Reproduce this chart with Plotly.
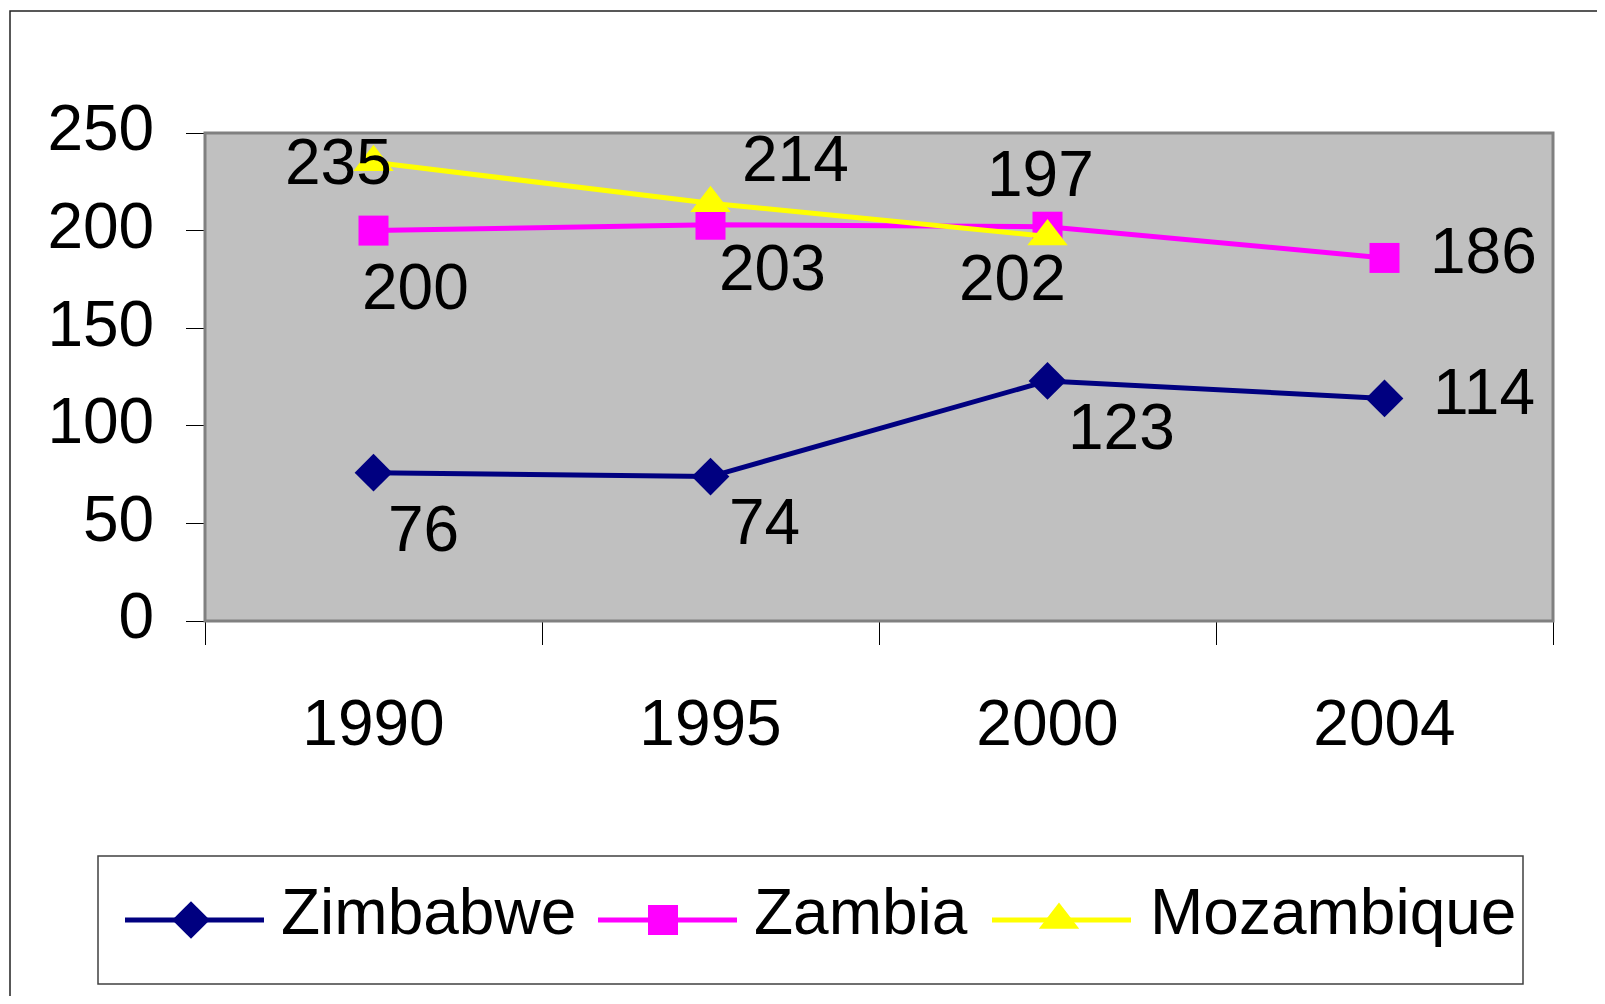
import plotly.graph_objects as go

# ---------------- data ----------------
years = ["1990", "1995", "2000", "2004"]
zimbabwe = [76, 74, 123, 114]
zambia = [200, 203, 202, 186]
mozambique = [235, 214, 197, None]
series_names = ["Zimbabwe", "Zambia", "Mozambique"]
y_ticks = [0, 50, 100, 150, 200, 250]

# ---------------- styling / layout ----------------
FONT = "Liberation Sans Narrow, Arial Narrow, Liberation Sans, Arial, sans-serif"
FS = 64
colors = ["#000080", "#FF00FF", "#FFFF00"]
symbols = ["diamond", "square", "triangle-up"]
msizes = [29, 30, 35]
# label offsets (dx right, dy down) in px for each point
label_offsets = [
    [(50, 56), (54, 45), (74, 46), (99, -6)],
    [(42, 56), (62, 43), (-35, 51), (99, -7)],
    [(-35, 0), (85, -44), (-7, -62), None],
]
# custom legend geometry in window px: (line x0, marker x, line x1, text x)
legend_items = [(125, 191, 264, 279), (598, 663, 737, 752), (992, 1059, 1131, 1148)]

W, H, OFF = 1589, 988, 8


def fx(x):
    return (x - OFF) / W


def fy(y):
    return 1 - (y - OFF) / H


values = [zimbabwe, zambia, mozambique]
xpos = list(range(len(years)))  # category index positions

fig = go.Figure()
for name, vals, c, s, ms in zip(series_names, values, colors, symbols, msizes):
    fig.add_trace(go.Scatter(
        x=xpos, y=vals, name=name, mode="lines+markers",
        line=dict(color=c, width=5),
        marker=dict(symbol=s, size=ms, color=c),
        cliponaxis=False, showlegend=False,
        customdata=years, hovertemplate="%{customdata}: %{y}<extra>" + name + "</extra>",
    ))

annotations = []
for vals, offs in zip(values, label_offsets):
    for xi, v, off in zip(xpos, vals, offs):
        if v is None or off is None:
            continue
        annotations.append(dict(
            x=xi, y=v, xref="x", yref="y", text=str(v), showarrow=False,
            xshift=off[0], yshift=-off[1],
            font=dict(family=FONT, size=FS, color="black"),
        ))

# custom legend
LY = 920
for name, c, s, ms, (lx0, mx, lx1, tx) in zip(series_names, colors, symbols, msizes, legend_items):
    fig.add_trace(go.Scatter(
        x=[lx0, lx1], y=[LY, LY], xaxis="x2", yaxis="y2", mode="lines",
        line=dict(color=c, width=5), showlegend=False, hoverinfo="skip",
    ))
    fig.add_trace(go.Scatter(
        x=[mx], y=[LY], xaxis="x2", yaxis="y2", mode="markers",
        marker=dict(symbol=s, size=ms, color=c), showlegend=False, hoverinfo="skip",
    ))
    annotations.append(dict(
        x=fx(tx), y=fy(912), xref="paper", yref="paper", text=name,
        xanchor="left", yanchor="middle", showarrow=False,
        font=dict(family=FONT, size=FS, color="black"),
    ))

shapes = [
    # plot area background
    dict(type="rect", xref="x domain", yref="y domain", x0=0, x1=1, y0=0, y1=1,
         fillcolor="#C0C0C0", line=dict(width=0), layer="below"),
    # plot area frame
    dict(type="rect", xref="paper", yref="paper", x0=fx(205), x1=fx(1553), y0=fy(621), y1=fy(133),
         line=dict(color="#808080", width=3), layer="above"),
    # legend box
    dict(type="rect", xref="paper", yref="paper", x0=fx(98), x1=fx(1523), y0=fy(984), y1=fy(856),
         line=dict(color="#404040", width=1.5), layer="above"),
    # outer chart frame
    dict(type="rect", xref="paper", yref="paper", x0=fx(10), x1=fx(1640), y0=fy(1040), y1=fy(11),
         line=dict(color="#222222", width=1.5), layer="above"),
]

fig.update_layout(
    template="none",
    width=W, height=H, autosize=False,
    margin=dict(l=0, r=0, t=0, b=0, pad=0),
    paper_bgcolor="white", plot_bgcolor="rgba(0,0,0,0)",
    font=dict(family=FONT, size=FS, color="black"),
    showlegend=False,
    xaxis=dict(
        domain=[fx(205), fx(1553)], range=[-0.5, 3.5], anchor="y", automargin=False,
        tickvals=xpos, ticktext=years, ticks="", ticklen=0,
        minor=dict(tickvals=[i - 0.5 for i in range(len(years) + 1)], ticks="outside",
                   ticklen=23, tickcolor="black", tickwidth=1, showgrid=False),
        showline=True, linecolor="black", linewidth=1, showgrid=False, zeroline=False,
        tickfont=dict(family=FONT, size=FS), ticklabelstandoff=46,
        fixedrange=True,
    ),
    yaxis=dict(
        domain=[fy(621), fy(133)], range=[0, 250], anchor="x", automargin=False,
        tickvals=y_ticks, ticks="outside", ticklen=18, tickcolor="black", tickwidth=1,
        showline=True, linecolor="black", linewidth=1, showgrid=False, zeroline=False,
        tickfont=dict(family=FONT, size=FS), ticklabelstandoff=19, ticklabelshift=-5,
        fixedrange=True,
    ),
    xaxis2=dict(domain=[0, 1], range=[OFF, OFF + W], anchor="y2", visible=False,
                fixedrange=True, automargin=False),
    yaxis2=dict(domain=[0, 1], range=[OFF + H, OFF], anchor="x2", visible=False,
                fixedrange=True, automargin=False),
    annotations=annotations,
    shapes=shapes,
)

fig.write_html("out.html")
